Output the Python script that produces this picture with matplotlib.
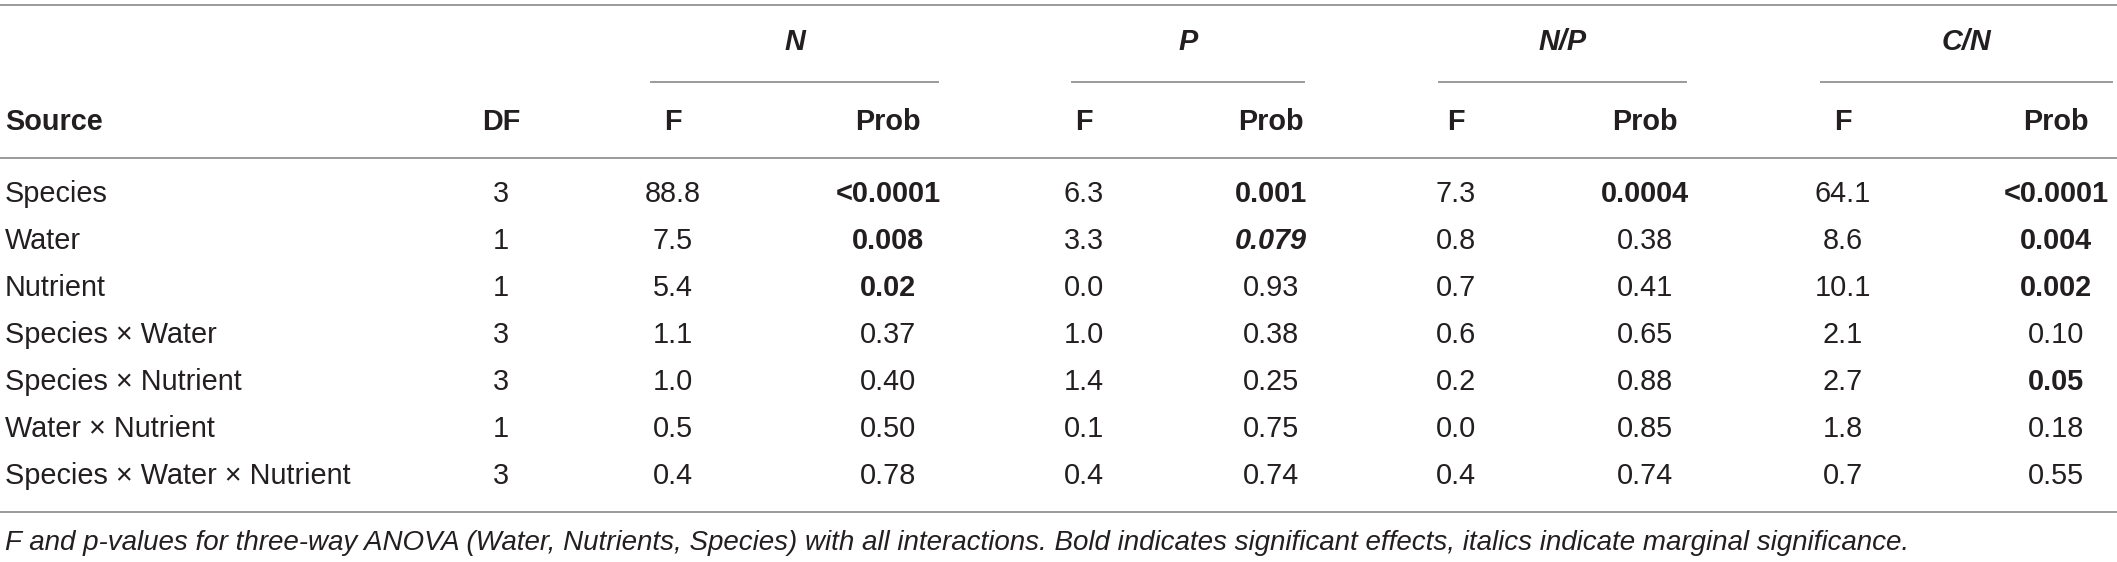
import matplotlib.pyplot as plt
from matplotlib.lines import Line2D

# таблица ANOVA
sources = ['Species', 'Water', 'Nutrient', 'Species \u00d7 Water', 'Species \u00d7 Nutrient',
           'Water \u00d7 Nutrient', 'Species \u00d7 Water \u00d7 Nutrient']
df_vals = ['3', '1', '1', '3', '3', '1', '3']
responses = ['N', 'P', 'N/P', 'C/N']

n_f = ['88.8', '7.5', '5.4', '1.1', '1.0', '0.5', '0.4']
n_prob = ['<0.0001', '0.008', '0.02', '0.37', '0.40', '0.50', '0.78']
p_f = ['6.3', '3.3', '0.0', '1.0', '1.4', '0.1', '0.4']
p_prob = ['0.001', '0.079', '0.93', '0.38', '0.25', '0.75', '0.74']
np_f = ['7.3', '0.8', '0.7', '0.6', '0.2', '0.0', '0.4']
np_prob = ['0.0004', '0.38', '0.41', '0.65', '0.88', '0.85', '0.74']
cn_f = ['64.1', '8.6', '10.1', '2.1', '2.7', '1.8', '0.7']
cn_prob = ['<0.0001', '0.004', '0.002', '0.10', '0.05', '0.18', '0.55']

# значимые (жирные) и маргинальные (курсив) ячейки: (строка, отклик)
bold_cells = [(0, 0), (0, 1), (0, 2), (0, 3), (1, 0), (1, 1), (1, 3), (2, 0), (2, 3), (4, 3)]
italic_cells = [(1, 1)]

caption = ('F and p-values for three-way ANOVA (Water, Nutrients, Species) with all interactions. '
           'Bold indicates significant effects, italics indicate marginal significance.')

W, H = 2117, 562
fig = plt.figure(figsize=(W / 100, H / 100), dpi=100)
plt.rcParams['font.family'] = ['Liberation Sans', 'DejaVu Sans']

TXT = '#231f20'
LINE = '#9a9a9a'
FS = 20.8


def px(x, y):
    return x / W, 1 - y / H


def put(x, y, s, ha='center', **kw):
    fx, fy = px(x, y)
    fig.text(fx, fy, s, ha=ha, va='center', color=TXT, fontsize=kw.pop('fontsize', FS), **kw)


def hline(x0, x1, y):
    a, b = px(x0, y)
    c, d = px(x1, y)
    fig.add_artist(Line2D([a, c], [b, d], color=LINE, lw=1.4, transform=fig.transFigure))


f_x = [673, 1084, 1456, 1843]
prob_x = [888, 1271, 1645, 2056]
under = [(651, 938), (1072, 1304), (1439, 1686), (1821, 2112)]
f_cols = [n_f, p_f, np_f, cn_f]
prob_cols = [n_prob, p_prob, np_prob, cn_prob]

hline(0, W, 5)
hline(0, W, 158)
hline(0, W, 512)

for k, name in enumerate(responses):
    x0, x1 = under[k]
    put((x0 + x1) / 2, 42, name, fontweight='bold', fontstyle='italic')
    hline(x0, x1, 82)
    put(f_x[k], 122, 'F', fontweight='bold')
    put(prob_x[k], 122, 'Prob', fontweight='bold')

put(5, 122, 'Source', ha='left', fontweight='bold')
put(501, 122, 'DF', fontweight='bold')

row_y = [194 + 47 * i for i in range(len(sources))]
for i, src in enumerate(sources):
    y = row_y[i]
    put(5, y, src, ha='left')
    put(501, y, df_vals[i])
    for k in range(len(responses)):
        put(f_x[k], y, f_cols[k][i])
        w = 'bold' if (i, k) in bold_cells else 'normal'
        st = 'italic' if (i, k) in italic_cells else 'normal'
        put(prob_x[k], y, prob_cols[k][i], fontweight=w, fontstyle=st)

put(5, 543, caption, ha='left', fontstyle='italic', fontsize=20)

fig.savefig('out.png', dpi=100)
